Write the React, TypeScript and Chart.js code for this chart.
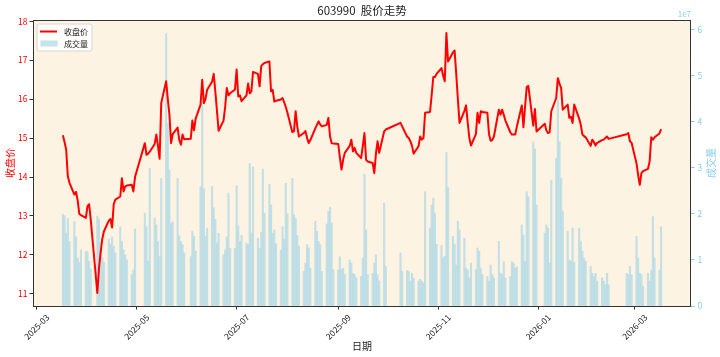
import React, { useEffect, useRef } from "react";
import { Chart, registerables } from "chart.js";

Chart.register(...registerables);

const FONT = '"Noto Sans CJK SC", "DejaVu Sans", sans-serif';

const chartTitle = "603990  股价走势";
const xAxisTitle = "日期";
const priceAxisTitle = "收盘价";
const volumeAxisTitle = "成交量";
const volumeOffsetText = "1e7";

// trading days, grouped by month
const tradingDays: [string, number[]][] = [
  ["2025-03", [17, 18, 19, 20, 21, 24, 25, 26, 27, 28, 31]],
  ["2025-04", [1, 2, 3, 7, 8, 9, 10, 11, 14, 15, 16, 17, 18, 21, 22, 23, 24, 25, 28, 29, 30]],
  ["2025-05", [6, 7, 8, 9, 12, 13, 14, 15, 16, 19, 20, 21, 22, 23, 26, 27, 28, 29, 30]],
  ["2025-06", [3, 4, 5, 6, 9, 10, 11, 12, 13, 16, 17, 18, 19, 20, 23, 24, 25, 26, 27, 30]],
  ["2025-07", [1, 2, 3, 4, 7, 8, 9, 10, 11, 14, 15, 16, 17, 18, 21, 22, 23, 24, 25, 28, 29, 30, 31]],
  ["2025-08", [1, 4, 5, 6, 7, 8, 11, 12, 13, 14, 15, 18, 19, 20, 21, 22, 25, 26, 27, 28, 29]],
  ["2025-09", [1, 2, 3, 4, 5, 8, 9, 10, 11, 12, 15, 16, 17, 18, 19, 22, 23, 24, 25, 26, 29, 30]],
  ["2025-10", [9, 10, 13, 14, 15, 16, 17, 20, 21, 22, 23, 24, 27, 28, 29, 30, 31]],
  ["2025-11", [3, 4, 5, 6, 7, 10, 11, 12, 13, 14, 17, 18, 19, 20, 21, 24, 25, 26, 27, 28]],
  ["2025-12", [1, 2, 3, 4, 5, 8, 9, 10, 11, 12, 15, 16, 17, 18, 19, 22, 23, 24, 25, 26, 29, 30, 31]],
  ["2026-01", [5, 6, 7, 8, 9, 12, 13, 14, 15, 16, 19, 20, 21, 22, 23, 26, 27, 28, 29, 30]],
  ["2026-02", [2, 3, 4, 5, 6, 9, 10, 11, 12, 13, 24, 25, 26, 27]],
  ["2026-03", [2, 3, 4, 5, 6, 9, 10, 11, 12, 13, 16, 17]],
];

const closePrice = [
  // 2025-03
  15.07, 14.9, 14.7, 14.02, 13.85, 13.55, 13.62, 13.4, 13.05, 13.02, 12.95,
  // 2025-04
  13.25, 13.3, 12.9, 11.02, 11.65, 12.05, 12.4, 12.6, 12.88, 12.92, 12.7, 13.3, 13.42, 13.5, 13.97, 13.63, 13.76, 13.78, 13.8, 13.63, 14.0,
  // 2025-05
  14.87, 14.57, 14.6, 14.65, 14.85, 15.09, 14.8, 14.47, 15.9, 16.46, 16.0, 15.6, 14.87, 15.1, 15.27, 14.95, 14.83, 15.09, 14.97,
  // 2025-06
  14.98, 15.45, 15.2, 15.5, 15.86, 16.5, 15.9, 16.0, 16.24, 16.45, 16.65, 16.2, 15.7, 15.19, 15.45, 15.8, 16.29, 16.1, 16.15, 16.25,
  // 2025-07
  16.76, 16.07, 16.1, 15.95, 16.1, 16.4, 16.15, 16.2, 16.7, 16.65, 16.33, 16.85, 16.9, 16.93, 16.97, 16.2, 16.24, 15.94, 15.96, 15.99, 16.03, 15.92, 15.8,
  // 2025-08
  15.65, 15.15, 15.18, 15.69, 15.3, 15.04, 15.13, 15.18, 15.0, 14.87, 14.95, 15.25, 15.34, 15.43, 15.35, 15.3, 15.34, 15.52, 15.04, 14.87, 14.86,
  // 2025-09
  14.85, 14.5, 14.19, 14.45, 14.62, 14.8, 14.96, 14.66, 14.75, 14.62, 14.49, 14.8, 15.13, 14.44, 14.4, 14.36, 14.1, 14.6, 14.92, 14.62, 15.17, 15.22,
  // 2025-10
  15.39, 15.3, 15.04, 15.0, 14.92, 14.8, 14.6, 14.79, 15.04, 14.96, 15.0, 15.65, 15.67, 16.1, 16.57, 16.57, 16.65,
  // 2025-11
  16.8, 16.6, 16.46, 17.7, 16.97, 17.2, 17.25, 16.65, 16.0, 15.39, 15.7, 15.84, 15.4, 15.0, 14.81, 15.1, 15.65, 15.39, 15.69, 15.67,
  // 2025-12
  15.65, 15.1, 14.93, 14.95, 15.04, 15.73, 15.6, 15.73, 15.6, 15.45, 15.15, 15.09, 15.09, 15.09, 15.3, 15.84, 15.28, 15.8, 16.31, 16.34, 15.32, 15.75, 15.17,
  // 2026-01
  15.37, 15.2, 15.13, 15.15, 15.69, 16.03, 16.54, 16.4, 16.29, 15.73, 15.86, 15.52, 15.55, 15.39, 15.86, 15.5, 15.34, 15.09, 15.05, 15.02,
  // 2026-02
  14.8, 14.96, 14.9, 14.81, 14.88, 14.95, 14.96, 15.0, 15.04, 14.98, 15.1, 15.13, 14.92, 14.88,
  // 2026-03
  14.35, 14.05, 13.8, 14.1, 14.15, 14.21, 14.4, 15.02, 14.96, 15.02, 15.12, 15.23,
];

// volume in units of 1e7 shares
const volumeE7 = [
  // 2025-03
  1.99, 1.96, 1.58, 1.9, 1.4, 1.83, 1.5, 1.04, 0.95, 1.22, 1.18,
  // 2025-04
  1.18, 0.97, 0.8, 1.95, 1.88, 1.38, 1.05, 0.95, 1.45, 1.35, 1.5, 1.3, 1.15, 1.72, 1.4, 1.22, 1.11, 1.0, 0.68, 0.78, 1.67,
  // 2025-05
  2.01, 1.72, 0.97, 2.99, 1.9, 1.76, 1.4, 1.07, 2.77, 5.91, 3.96, 2.95, 1.79, 1.83, 2.77, 1.53, 1.4, 1.33, 1.15,
  // 2025-06
  1.07, 1.62, 1.51, 1.19, 2.59, 4.43, 2.55, 1.51, 1.69, 2.59, 2.13, 1.88, 1.37, 1.58, 1.11, 1.21, 1.5, 2.45, 1.25, 1.25,
  // 2025-07
  2.61, 1.74, 1.4, 1.53, 1.37, 1.33, 3.09, 1.58, 3.02, 1.47, 1.25, 1.6, 2.97, 2.01, 2.64, 2.19, 1.58, 1.65, 1.35, 1.21, 1.72, 1.45, 2.66,
  // 2025-08
  2.0, 2.77, 1.98, 1.9, 1.53, 1.3, 0.75, 0.93, 1.33, 1.26, 0.82, 1.84, 1.62, 1.4, 1.33, 0.75, 1.78, 2.05, 2.14, 1.8, 0.79,
  // 2025-09
  0.79, 1.07, 0.79, 0.82, 0.68, 1.0, 0.93, 0.71, 0.68, 0.61, 0.64, 1.04, 2.86, 1.65, 0.68, 0.71, 0.93, 1.11, 0.68, 0.54, 2.23, 0.86,
  // 2025-10
  1.15, 0.75, 0.77, 0.75, 0.54, 0.71, 0.6, 0.54, 0.58, 0.54, 0.5, 2.48, 1.69, 2.19, 2.34, 2.01, 1.34,
  // 2025-11
  1.31, 1.04, 1.08, 3.33, 2.57, 1.51, 1.34, 0.89, 1.84, 1.65, 1.47, 0.82, 0.78, 0.61, 0.93, 0.79, 1.26, 1.19, 0.82, 0.68,
  // 2025-12
  0.64, 0.54, 0.89, 0.68, 0.61, 1.4, 0.71, 0.68, 0.96, 0.61, 0.64, 0.96, 0.93, 0.82, 0.85, 1.76, 1.54, 0.96, 2.48, 2.37, 3.56, 3.41, 2.19,
  // 2026-01
  1.58, 1.76, 1.69, 0.93, 2.73, 3.2, 4.48, 3.56, 2.77, 2.05, 1.62, 1.0, 0.97, 1.69, 0.95, 1.69, 1.4, 1.19, 1.04, 0.97,
  // 2026-02
  0.86, 0.71, 0.64, 0.71, 0.54, 0.61, 0.54, 0.46, 0.71, 0.46, 0.71, 0.68, 0.86, 0.68,
  // 2026-03
  1.51, 1.04, 0.71, 0.68, 0.43, 0.71, 0.54, 0.78, 1.94, 1.04, 0.78, 1.72,
];

const monthTicks = ["2025-03", "2025-05", "2025-07", "2025-09", "2025-11", "2026-01", "2026-03"];
const priceTicks = [11, 12, 13, 14, 15, 16, 17, 18];
const volumeTicks = [0, 1, 2, 3, 4, 5, 6];

const BASE = Date.UTC(2025, 2, 1);
const dayIndex = (s: string) => {
  const [y, m, d] = s.split("-").map(Number);
  return (Date.UTC(y, m - 1, d) - BASE) / 86400000;
};

const dates = tradingDays.flatMap(([ym, ds]) => ds.map((d) => `${ym}-${String(d).padStart(2, "0")}`));

const PRICE_COLOR = "#ff0000";
const VOL_COLOR = "rgba(173,216,230,0.72)";
const VOL_TEXT = "#87ceeb";
const BG = "#fdf3e3";

export default function App() {
  const ref = useRef<HTMLCanvasElement | null>(null);

  useEffect(() => {
    if (!ref.current) return;
    const xs = dates.map(dayIndex);
    const linePts = xs.map((x, i) => ({ x, y: closePrice[i] }));
    const barPts = xs.map((x, i) => ({ x, y: volumeE7[i] }));

    const xFirst = xs[0];
    const xLast = xs[xs.length - 1];
    const xSpan = xLast - xFirst;
    const pMin = Math.min(...closePrice);
    const pMax = Math.max(...closePrice);
    const pSpan = pMax - pMin;
    const vMax = Math.max(...volumeE7) * 1.05;

    const decor = {
      id: "decor",
      beforeDraw(chart: any) {
        const { ctx, chartArea: a } = chart;
        ctx.save();
        ctx.fillStyle = "#ffffff";
        ctx.fillRect(0, 0, chart.width, chart.height);
        ctx.fillStyle = BG;
        ctx.fillRect(a.left, a.top, a.right - a.left, a.bottom - a.top);
        ctx.restore();
      },
      afterDraw(chart: any) {
        const { ctx, chartArea: a } = chart;
        const xScale = chart.scales.x;
        ctx.save();
        // frame
        ctx.strokeStyle = "#333333";
        ctx.lineWidth = 1;
        ctx.strokeRect(a.left + 0.5, a.top + 0.5, a.right - a.left - 1, a.bottom - a.top);

        // title
        ctx.fillStyle = "#222222";
        ctx.font = `11.5px ${FONT}`;
        ctx.textAlign = "center";
        ctx.textBaseline = "middle";
        ctx.fillText(chartTitle, (a.left + a.right) / 2, 11);

        // x title
        ctx.font = `10px ${FONT}`;
        ctx.fillStyle = "#222222";
        ctx.fillText(xAxisTitle, (a.left + a.right) / 2, 346);

        // y titles
        const midY = (a.top + a.bottom) / 2;
        ctx.save();
        ctx.translate(10, midY);
        ctx.rotate(-Math.PI / 2);
        ctx.fillStyle = PRICE_COLOR;
        ctx.fillText(priceAxisTitle, 0, 0);
        ctx.restore();
        ctx.save();
        ctx.translate(711, midY);
        ctx.rotate(-Math.PI / 2);
        ctx.fillStyle = VOL_TEXT;
        ctx.fillText(volumeAxisTitle, 0, 0);
        ctx.restore();

        // offset text
        ctx.font = `8px ${FONT}`;
        ctx.fillStyle = VOL_TEXT;
        ctx.textAlign = "right";
        ctx.textBaseline = "alphabetic";
        ctx.fillText(volumeOffsetText, a.right, 17);

        // x tick labels, rotated 45 and centred on tick
        ctx.font = `8.5px ${FONT}`;
        ctx.fillStyle = "#222222";
        ctx.textAlign = "center";
        ctx.textBaseline = "middle";
        for (const t of monthTicks) {
          const px = xScale.getPixelForValue(dayIndex(`${t}-01`));
          const w = ctx.measureText(t).width;
          const side = (w + 8) * Math.SQRT1_2;
          ctx.save();
          ctx.translate(px, a.bottom + 7 + side / 2);
          ctx.rotate(-Math.PI / 4);
          ctx.fillText(t, 0, 0);
          ctx.restore();
        }

        // legend
        const lx = 37, ly = 24, lw = 55, lh = 27;
        ctx.beginPath();
        const r = 2;
        ctx.moveTo(lx + r, ly);
        ctx.lineTo(lx + lw - r, ly);
        ctx.quadraticCurveTo(lx + lw, ly, lx + lw, ly + r);
        ctx.lineTo(lx + lw, ly + lh - r);
        ctx.quadraticCurveTo(lx + lw, ly + lh, lx + lw - r, ly + lh);
        ctx.lineTo(lx + r, ly + lh);
        ctx.quadraticCurveTo(lx, ly + lh, lx, ly + lh - r);
        ctx.lineTo(lx, ly + r);
        ctx.quadraticCurveTo(lx, ly, lx + r, ly);
        ctx.closePath();
        ctx.fillStyle = "rgba(255,255,255,0.8)";
        ctx.fill();
        ctx.strokeStyle = "#d6d6d6";
        ctx.lineWidth = 1;
        ctx.stroke();

        ctx.strokeStyle = PRICE_COLOR;
        ctx.lineWidth = 2;
        ctx.beginPath();
        ctx.moveTo(40, 31.5);
        ctx.lineTo(57, 31.5);
        ctx.stroke();
        ctx.fillStyle = VOL_COLOR;
        ctx.fillRect(40.5, 40.5, 17, 6);

        ctx.fillStyle = "#222222";
        ctx.font = `8px ${FONT}`;
        ctx.textAlign = "left";
        ctx.textBaseline = "middle";
        ctx.fillText("收盘价", 64, 32);
        ctx.fillText("成交量", 64, 44);
        ctx.restore();
      },
    };

    const chart = new Chart(ref.current, {
      data: {
        datasets: [
          {
            type: "line",
            label: "收盘价",
            data: linePts,
            borderColor: PRICE_COLOR,
            borderWidth: 2,
            pointRadius: 0,
            tension: 0,
            borderJoinStyle: "round",
            yAxisID: "y",
            order: 0,
          } as any,
          {
            type: "bar",
            label: "成交量",
            data: barPts,
            backgroundColor: VOL_COLOR,
            borderWidth: 0,
            barThickness: 1.5,
            yAxisID: "y1",
            order: 1,
          } as any,
        ],
      },
      options: {
        responsive: false,
        animation: false,
        events: [],
        layout: { padding: { top: 20, left: 0, right: 0, bottom: 0 } },
        plugins: {
          legend: { display: false },
          title: { display: false },
          tooltip: { enabled: false },
        },
        scales: {
          x: {
            type: "linear",
            offset: false,
            min: xFirst - 0.05 * xSpan,
            max: xLast + 0.05 * xSpan,
            afterBuildTicks: (s: any) => {
              s.ticks = monthTicks.map((t) => ({ value: dayIndex(`${t}-01`) }));
            },
            afterFit: (s: any) => {
              s.height = 51;
            },
            ticks: { display: false },
            grid: {
              display: true,
              offset: false,
              drawOnChartArea: false,
              drawTicks: true,
              tickLength: 3.5,
              tickColor: "#333333",
            },
            border: { display: false },
          },
          y: {
            type: "linear",
            position: "left",
            min: pMin - 0.05 * pSpan,
            max: pMax + 0.05 * pSpan,
            afterBuildTicks: (s: any) => {
              s.ticks = priceTicks.map((v) => ({ value: v }));
            },
            afterFit: (s: any) => {
              s.width = 33;
            },
            ticks: {
              color: PRICE_COLOR,
              font: { family: FONT, size: 8.5 },
              padding: 2,
            },
            grid: {
              display: true,
              drawOnChartArea: false,
              drawTicks: true,
              tickLength: 3.5,
              tickColor: "#333333",
            },
            border: { display: false },
          },
          y1: {
            type: "linear",
            position: "right",
            min: 0,
            max: vMax,
            afterBuildTicks: (s: any) => {
              s.ticks = volumeTicks.map((v) => ({ value: v }));
            },
            afterFit: (s: any) => {
              s.width = 29;
            },
            ticks: {
              color: VOL_TEXT,
              font: { family: FONT, size: 8.5 },
              padding: 3,
            },
            grid: {
              display: true,
              drawOnChartArea: false,
              drawTicks: true,
              tickLength: 3.5,
              tickColor: VOL_TEXT,
            },
            border: { display: false },
          },
        },
      },
      plugins: [decor],
    });

    return () => chart.destroy();
  }, []);

  return (
    <div style={{ position: "fixed", left: 0, top: 0, width: 720, height: 357, background: "#fff" }}>
      <canvas ref={ref} width={720} height={357} style={{ display: "block", width: 720, height: 357 }} />
    </div>
  );
}
